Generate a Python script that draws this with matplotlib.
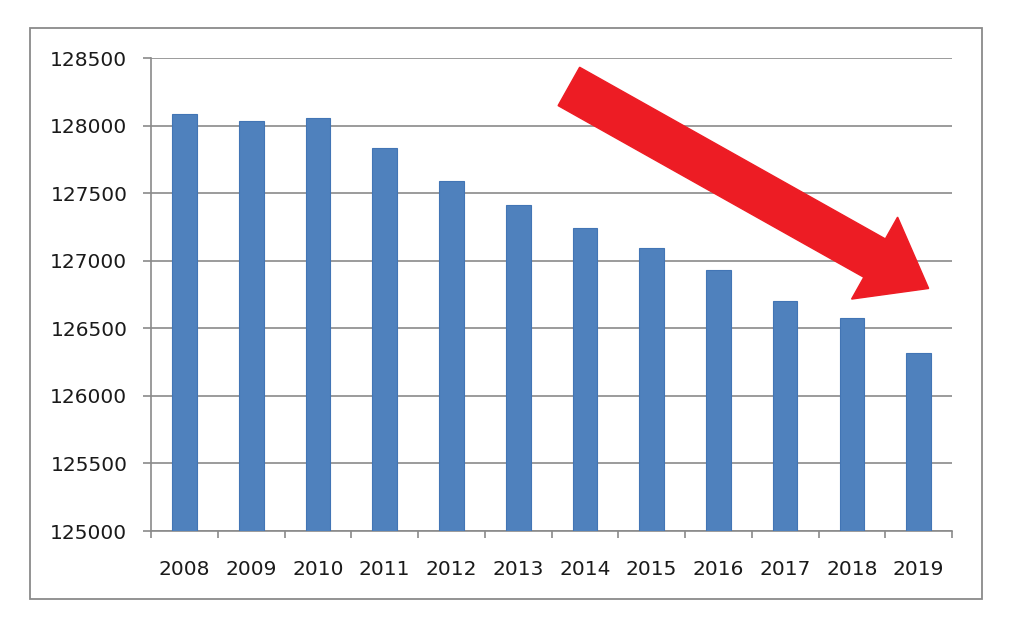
import matplotlib
matplotlib.use("Agg")
import matplotlib.pyplot as plt
from matplotlib.patches import FancyArrow, Rectangle
from matplotlib.transforms import IdentityTransform

years = ["2008", "2009", "2010", "2011", "2012", "2013",
         "2014", "2015", "2016", "2017", "2018", "2019"]
population = [128085, 128035, 128055, 127835, 127590, 127415,
              127240, 127095, 126935, 126705, 126580, 126320]
yticks = [125000, 125500, 126000, 126500, 127000, 127500, 128000, 128500]

# arrow ends in data coords (category index, value)
arrow_start = (5.76, 128290)
arrow_end = (11.15, 126795)

grey = "#8a8a8a"
text_col = "#1a1a1a"

fig = plt.figure(figsize=(10.24, 6.38), dpi=100)
fig.patch.set_facecolor("white")

# outer frame
fig.add_artist(Rectangle((0.0293, 0.0611), 0.9297, 0.895, transform=fig.transFigure,
                         fill=False, edgecolor=grey, linewidth=1.3))

ax = fig.add_axes([0.1475, 0.1677, 0.7822, 0.7413])
x = list(range(len(years)))
ax.bar(x, population, width=0.37, color="#4F81BD", edgecolor="#4275B5", linewidth=0.8, zorder=3)

ax.set_xlim(-0.5, len(years) - 0.5)
ax.set_ylim(yticks[0], yticks[-1])
ax.set_yticks(yticks)
ax.set_yticklabels([str(v) for v in yticks])
ax.yaxis.grid(True, color=grey, linewidth=1.2, zorder=0)

ax.set_xticks([i - 0.5 for i in range(len(years) + 1)])
ax.set_xticklabels([])
ax.set_xticks(x, minor=True)
ax.set_xticklabels(years, minor=True)

ax.tick_params(axis="x", which="major", length=5, width=1.2, color=grey, direction="out")
ax.tick_params(axis="x", which="minor", length=0, pad=21, labelsize=14.5, labelcolor=text_col)
ax.tick_params(axis="y", length=6, width=1.2, color=grey, pad=11, labelsize=14.5, labelcolor=text_col)

for side in ["top", "right"]:
    ax.spines[side].set_visible(False)
for side in ["left", "bottom"]:
    ax.spines[side].set_color(grey)
    ax.spines[side].set_linewidth(1.2)

# red arrow, built in pixel space so its shape is not squashed
p0 = ax.transData.transform(arrow_start)
p1 = ax.transData.transform(arrow_end)
arrow = FancyArrow(p0[0], p0[1], p1[0] - p0[0], p1[1] - p0[1], width=44, head_width=94,
                   head_length=62, length_includes_head=True, color="#ED1C24",
                   transform=IdentityTransform(), zorder=5)
fig.add_artist(arrow)

fig.savefig("out.png", dpi=100, facecolor="white")
